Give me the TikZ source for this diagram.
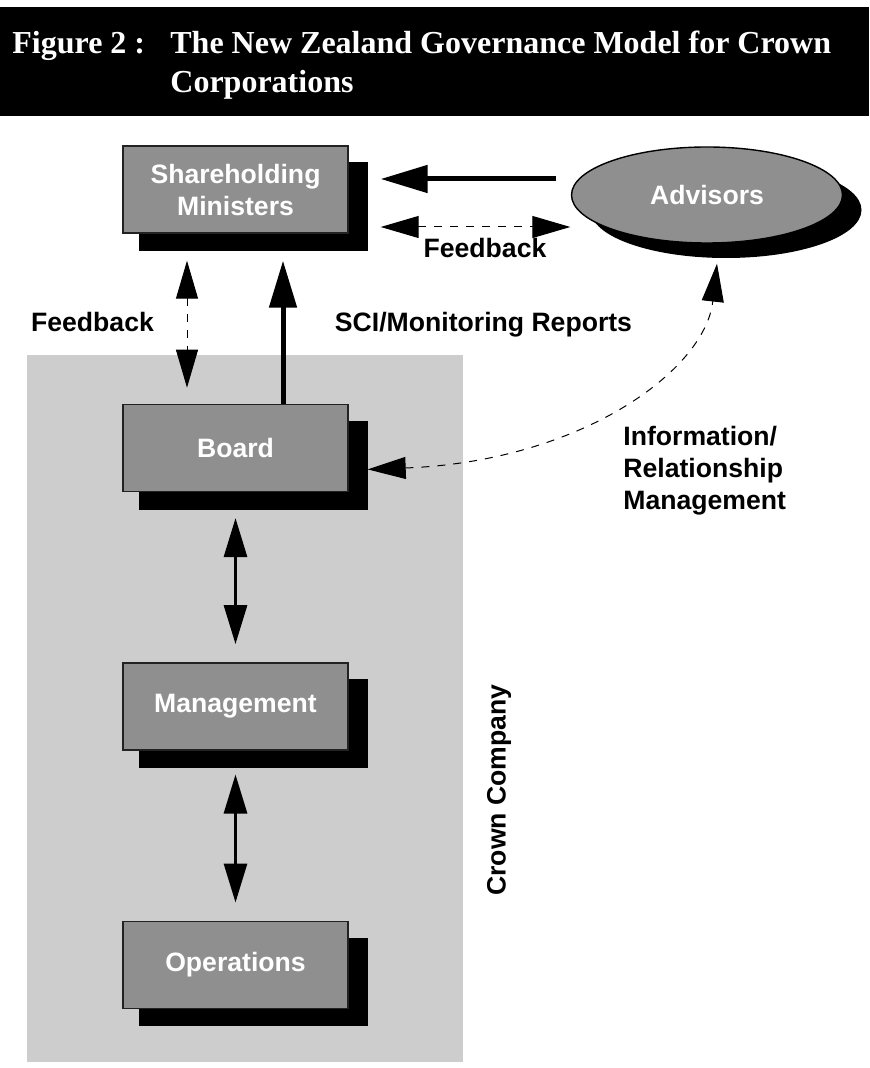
\documentclass[tikz,border=0pt]{standalone}
\usepackage{fontspec}
\setmainfont{Liberation Serif}
\setsansfont{Liberation Sans}
\usepackage{xcolor}
\usetikzlibrary{shapes.geometric, arrows.meta, positioning, shadows}

\definecolor{boxgray}{RGB}{143,143,143}
\definecolor{crowngray}{RGB}{205,205,205}
\definecolor{edgegray}{RGB}{34,34,34}

\begin{document}
\begin{tikzpicture}[
    x=0.5pt, y=-0.5pt,
    font=\sffamily\bfseries\fontsize{13.3}{16}\selectfont,
    node distance=85pt,
    entity/.style={rectangle, draw=edgegray, line width=0.7pt, fill=boxgray, text=white, minimum width=112.5pt, minimum height=43.5pt, align=center, inner sep=2pt, general shadow={fill=black, draw=none, shadow xshift=8.75pt, shadow yshift=-8.5pt, shadow scale=1.02}},
    advisor/.style={ellipse, draw=black, line width=0.7pt, fill=boxgray, text=white, minimum width=135.5pt, minimum height=48pt, inner sep=0pt, general shadow={fill=black, draw=none, shadow xshift=9.5pt, shadow yshift=-7.5pt}},
    headtext/.style={text=white, inner sep=0pt, font=\rmfamily\bfseries\fontsize{16}{19.5}\selectfont},
    lbl/.style={text=black, inner sep=0pt},
    thickarr/.style={-{Triangle[length=23.5pt, width=13.5pt]}, line width=2.5pt},
    dasharr/.style={{Triangle[length=19pt, width=11pt]}-{Triangle[length=19pt, width=11pt]}, line width=0.5pt, dash pattern=on 4pt off 4pt},
    linkarr/.style={{Triangle[length=19.5pt, width=11.5pt]}-{Triangle[length=19.5pt, width=11.5pt]}, line width=1.5pt},
]
\useasboundingbox (0,0) rectangle (869,1068);

% title bar
\fill[black] (0,7) rectangle (869,116);
\node[headtext, anchor=base west] (fignum) at (12,54) {Figure 2 :};
\node[headtext, anchor=base west, align=left] (figtitle) at (170,93) {The New Zealand Governance Model for Crown\\Corporations};

% crown company area
\fill[crowngray] (27,355) rectangle (463,1062);

\node[entity] (share) at (235.5,189.5) {Shareholding\\Ministers};
\node[entity, below=of share] (board) {Board};
\node[entity, below=of board] (mgmt) {Management};
\node[entity, below=of mgmt] (ops) {Operations};
\node[advisor] (adv) at (707,195) {Advisors};

\draw[thickarr] ([xshift=-7.25pt, yshift=8pt]adv.west) -- ([xshift=16pt, yshift=5.25pt]share.east);
\draw[dasharr] ([xshift=16pt, yshift=-18.75pt]share.east) -- ([xshift=-0.25pt, yshift=-16pt]adv.west);
\draw[dasharr] ([xshift=-24.25pt, yshift=-13.5pt]share.south) -- ([xshift=-24.25pt, yshift=8pt]board.north);
\draw[thickarr] ([xshift=23.75pt]board.north) -- ([xshift=23.75pt, yshift=-13.5pt]share.south);
\draw[dasharr] ([xshift=9.5pt, yshift=-10.75pt]board.east) .. controls +(213,-8) and +(-12,107) .. ([xshift=5pt, yshift=-10pt]adv.south);
\draw[linkarr] ([yshift=-13pt]board.south) -- ([yshift=9pt]mgmt.north);
\draw[linkarr] ([yshift=-12pt]mgmt.south) -- ([yshift=9pt]ops.north);

\node[lbl, anchor=base] (fbtop) at (485,258) {Feedback};
\node[lbl, anchor=base] (fbleft) at (92.5,332) {Feedback};
\node[lbl, anchor=base] (sci) at (483.5,332) {SCI/Monitoring Reports};
\node[lbl, anchor=base west, align=left] (info) at (623,509) {Information/\\Relationship\\Management};
\node[lbl, rotate=90] (crown) at (499,790) {Crown Company};

\end{tikzpicture}
\end{document}
